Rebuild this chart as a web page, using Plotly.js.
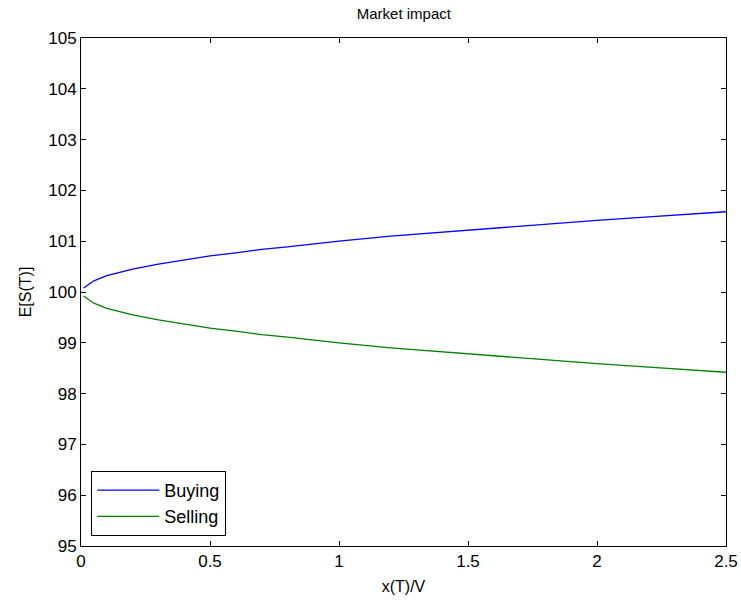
<!DOCTYPE html>
<html><head><meta charset="utf-8">
<script src="https://cdn.plot.ly/plotly-3.0.1.min.js"></script>
<style>html,body{margin:0;padding:0;background:#fff}#c{width:741px;height:605px}</style>
</head><body><div id="c"></div>
<script>
const xVals = [0.01, 0.05, 0.1, 0.2, 0.3, 0.4, 0.5, 0.6, 0.7, 0.8, 0.9, 1.0, 1.2, 1.4, 1.6, 1.8, 2.0, 2.2, 2.4, 2.5];
const buying = [100.08, 100.22, 100.32, 100.45, 100.55, 100.63, 100.71, 100.77, 100.84, 100.89, 100.95, 101.00, 101.10, 101.18, 101.26, 101.34, 101.41, 101.48, 101.55, 101.58];
const selling = [99.92, 99.78, 99.68, 99.55, 99.45, 99.37, 99.29, 99.23, 99.16, 99.11, 99.05, 99.00, 98.90, 98.82, 98.74, 98.66, 98.59, 98.52, 98.45, 98.42];
const xTicks = [0, 0.5, 1, 1.5, 2, 2.5];
const xTickText = ['0', '0.5', '1', '1.5', '2', '2.5'];
const yTicks = [95, 96, 97, 98, 99, 100, 101, 102, 103, 104, 105];

const font = {family: 'Liberation Sans, Arial, sans-serif', size: 17, color: '#000'};
const traces = [
  {x: xVals, y: buying, name: 'Buying', mode: 'lines', line: {color: '#0000ff', width: 1.3}},
  {x: xVals, y: selling, name: 'Selling', mode: 'lines', line: {color: '#008000', width: 1.3}}
];
const axisCommon = {showgrid: false, zeroline: false, showline: true, linecolor: '#000', linewidth: 1,
  mirror: 'ticks', ticks: 'inside', ticklen: 5, tickcolor: '#000', tickfont: font};
const layout = {
  width: 741, height: 605,
  margin: {l: 81, r: 15, t: 38, b: 59},
  paper_bgcolor: '#fff', plot_bgcolor: '#fff',
  font: font,
  title: {text: 'Market impact', font: {family: font.family, size: 15, color: '#000'}, x: 0.545, xanchor: 'center', y: 0.977, yanchor: 'middle'},
  xaxis: Object.assign({}, axisCommon, {range: [0, 2.5], tickvals: xTicks, ticktext: xTickText,
    title: {text: 'x(T)/V', font: {family: font.family, size: 16, color: '#000'}, standoff: 10}}),
  yaxis: Object.assign({}, axisCommon, {range: [95, 105], tickvals: yTicks,
    title: {text: 'E[S(T)]', font: {family: font.family, size: 16, color: '#000'}, standoff: 12}}),
  legend: {x: 0.016, y: 0.02, xanchor: 'left', yanchor: 'bottom', bgcolor: '#fff', bordercolor: '#000', borderwidth: 1,
    font: {family: font.family, size: 18, color: '#000'}, tracegroupgap: 0, itemwidth: 62},
  showlegend: true
};
Plotly.newPlot('c', traces, layout, {displayModeBar: false, staticPlot: true});
</script></body></html>
